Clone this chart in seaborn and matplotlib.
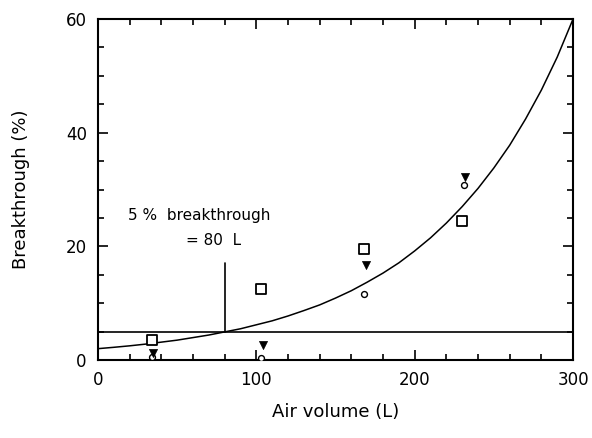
import matplotlib
matplotlib.use("Agg")
import matplotlib.pyplot as plt
import seaborn as sns
import pandas as pd
from matplotlib.ticker import MultipleLocator

# Data
sq_x = [34, 103, 168, 230]
sq_y = [3.5, 12.5, 19.5, 24.4]
tri_x = [35, 104, 169, 232]
tri_y = [1.2, 2.6, 16.7, 32.2]
circ_x = [34, 103, 168, 231]
circ_y = [0.6, 0.3, 11.6, 30.8]
curve_x = [0, 10, 20, 30, 40, 50, 60, 70, 80, 90, 100, 110, 120, 130, 140, 150,
           160, 170, 180, 190, 200, 210, 220, 230, 240, 250, 260, 270, 280, 290, 300]
curve_y = [2.0, 2.24, 2.5, 2.8, 3.15, 3.5, 3.95, 4.4, 4.95, 5.5, 6.2, 6.9, 7.75,
           8.7, 9.7, 10.9, 12.2, 13.7, 15.3, 17.1, 19.2, 21.5, 24.1, 27.0, 30.2,
           33.8, 37.8, 42.4, 47.5, 53.3, 60.0]
limit_level = 5
limit_volume = 80
x_ticks = [0, 100, 200, 300]
y_ticks = [0, 20, 40, 60]

sns.set_theme(style="ticks")
plt.rcParams['font.family'] = ['DejaVu Sans']
plt.rcParams['text.color'] = 'black'
plt.rcParams['axes.labelcolor'] = 'black'

fig = plt.figure(figsize=(5.92, 4.38), dpi=100)
ax = fig.add_axes([0.1655, 0.178, 0.8025, 0.7786])

sns.lineplot(x=curve_x, y=curve_y, ax=ax, color="black", linewidth=1.1)
sns.scatterplot(x=sq_x, y=sq_y, ax=ax, marker="s", s=45, facecolor="white",
                edgecolor="black", linewidth=1.3, zorder=5)
sns.scatterplot(x=circ_x, y=circ_y, ax=ax, marker="o", s=18, facecolor="white",
                edgecolor="black", linewidth=1.0, zorder=5)
sns.scatterplot(x=tri_x, y=tri_y, ax=ax, marker="v", s=34, color="black",
                edgecolor="black", linewidth=0.5, zorder=6)

ax.axhline(limit_level, color="black", linewidth=1.2)
ax.plot([limit_volume, limit_volume], [limit_level, 17], color="black", linewidth=1.2)

ax.text(64, 25.5, "5 %  breakthrough", fontsize=11, ha="center", va="center", color="black")
ax.text(73, 21.0, "= 80  L", fontsize=11, ha="center", va="center", color="black")

ax.set_xlim(0, 300)
ax.set_ylim(0, 60)
ax.set_xticks(x_ticks)
ax.set_yticks(y_ticks)
ax.xaxis.set_minor_locator(MultipleLocator(20))
ax.yaxis.set_minor_locator(MultipleLocator(5))
ax.tick_params(which="both", direction="in", top=True, right=True, colors="black",
               labelcolor="black", labelsize=12, pad=8)
ax.tick_params(which="major", length=7, width=1.2)
ax.tick_params(which="minor", length=4, width=1.2)
for s in ax.spines.values():
    s.set_linewidth(1.5)
    s.set_color("black")
    s.set_visible(True)

ax.set_xlabel("Air volume (L)", fontsize=13, labelpad=10, color="black")
ax.set_ylabel("Breakthrough (%)", fontsize=13, labelpad=26, color="black")

fig.savefig("out.png", dpi=100)
